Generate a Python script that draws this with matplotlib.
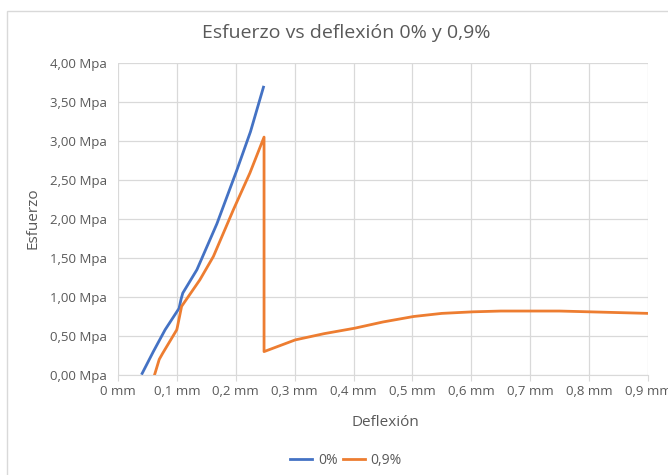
import matplotlib
matplotlib.use("Agg")
import matplotlib.pyplot as plt
from matplotlib.patches import Rectangle
from matplotlib.ticker import FixedLocator

# Data (deflection in mm, stress in MPa)
x_0 = [0.041, 0.06, 0.08, 0.1037, 0.107, 0.11, 0.134, 0.168, 0.202, 0.225, 0.247]
y_0 = [0.02, 0.30, 0.58, 0.855, 0.97, 1.05, 1.35, 1.94, 2.63, 3.12, 3.69]

x_09 = [0.062, 0.07, 0.076, 0.0998, 0.101, 0.108, 0.139, 0.162, 0.196, 0.224, 0.248,
        0.248, 0.301, 0.35, 0.402, 0.45, 0.502, 0.55, 0.603, 0.65, 0.70, 0.75, 0.80, 0.85, 0.90]
y_09 = [0.0, 0.20, 0.28, 0.58, 0.62, 0.88, 1.22, 1.52, 2.12, 2.59, 3.05,
        0.30, 0.45, 0.53, 0.60, 0.68, 0.75, 0.79, 0.81, 0.82, 0.82, 0.82, 0.81, 0.80, 0.79]

series_names = ["0%", "0,9%"]
x_ticks = [0, 0.1, 0.2, 0.3, 0.4, 0.5, 0.6, 0.7, 0.8, 0.9]
x_labels = ["0 mm", "0,1 mm", "0,2 mm", "0,3 mm", "0,4 mm", "0,5 mm", "0,6 mm", "0,7 mm", "0,8 mm", "0,9 mm"]
y_ticks = [0, 0.5, 1.0, 1.5, 2.0, 2.5, 3.0, 3.5, 4.0]
y_labels = ["0,00 Mpa", "0,50 Mpa", "1,00 Mpa", "1,50 Mpa", "2,00 Mpa", "2,50 Mpa", "3,00 Mpa", "3,50 Mpa", "4,00 Mpa"]

plt.rcParams['font.family'] = ['Open Sans', 'DejaVu Sans']
W, H = 668, 475
fig = plt.figure(figsize=(W / 100, H / 100), dpi=100)
fig.patch.set_facecolor("white")

# chart border
fig.patches.append(Rectangle((7 / W, -0.1), 1.2, 1 - 11 / H + 0.1, transform=fig.transFigure,
                             fill=False, edgecolor="#d9d9d9", linewidth=1.0))

ax = fig.add_axes([118 / W, 1 - 375 / H, (648 - 118) / W, (375 - 63) / H])
ax.plot(x_0, y_0, color="#4472C4", lw=2.0, label=series_names[0], solid_joinstyle="round")
ax.plot(x_09, y_09, color="#ED7D31", lw=2.0, label=series_names[1], solid_joinstyle="round")

ax.set_xlim(0, 0.9)
ax.set_ylim(0, 4)
ax.xaxis.set_major_locator(FixedLocator(x_ticks))
ax.set_xticklabels(x_labels)
ax.yaxis.set_major_locator(FixedLocator(y_ticks))
ax.set_yticklabels(y_labels)
ax.grid(True, color="#d9d9d9", lw=0.9)
ax.set_axisbelow(True)
for s in ["top", "right", "left"]:
    ax.spines[s].set_visible(False)
ax.spines["bottom"].set_color("#d9d9d9")
ax.tick_params(axis="y", length=0, pad=8, labelsize=9.5, labelcolor="#595959")
ax.tick_params(axis="x", length=4, color="#d9d9d9", pad=3, labelsize=9.5, labelcolor="#595959")
for lbl in ax.get_xticklabels():
    lbl.set_clip_on(False)

fig.text(346 / W, 1 - 33 / H, "Esfuerzo vs deflexión 0% y 0,9%", ha="center", va="center",
         fontsize=14, color="#595959")
fig.text(33 / W, 1 - 218 / H, "Esfuerzo", ha="center", va="center", rotation=90,
         fontsize=11, color="#595959")
fig.text(385 / W, 1 - 422 / H, "Deflexión", ha="center", va="center",
         fontsize=11, color="#595959")

leg = fig.legend(loc="center", bbox_to_anchor=(346 / W, 1 - 460 / H), ncol=2, frameon=False,
                 fontsize=10, labelcolor="#595959", handlelength=1.6, columnspacing=0.4,
                 handletextpad=0.4)

fig.savefig("out.png", dpi=100)
